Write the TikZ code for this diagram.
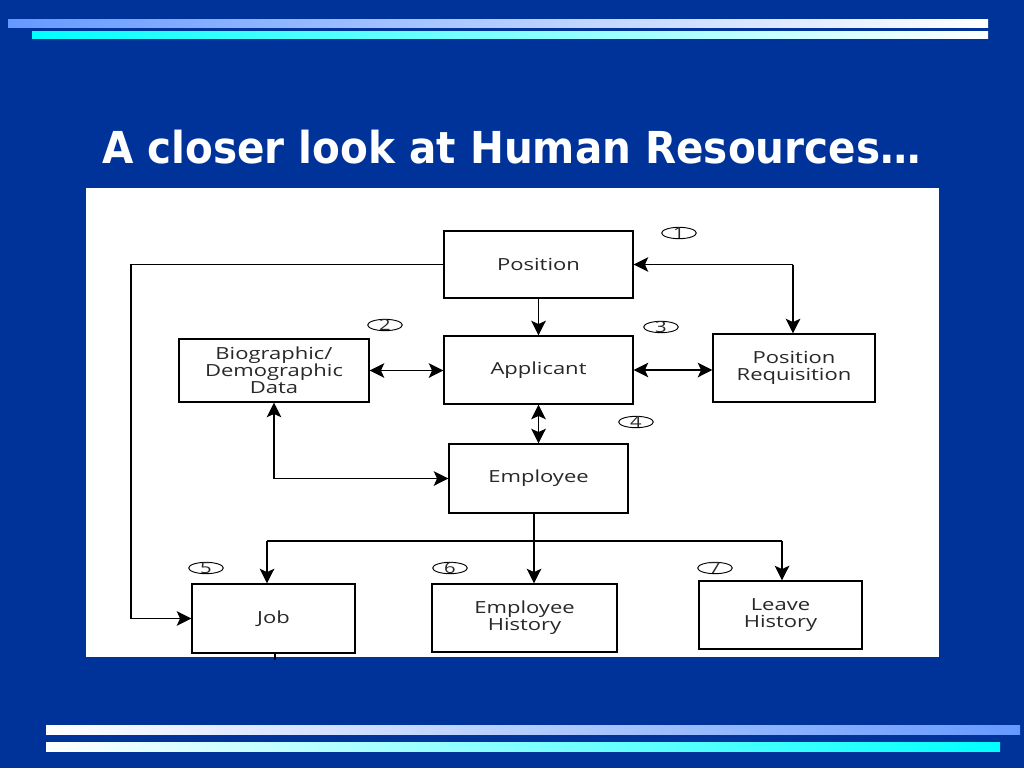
\documentclass[tikz,border=0pt]{standalone}
\usepackage{fontspec}
\usetikzlibrary{arrows.meta,shapes.geometric}
\newfontfamily\boxfont{Open Sans}[FakeStretch=1.32]
\newfontfamily\titlefont{DejaVu Sans}[FakeStretch=0.92]
\definecolor{slideblue}{RGB}{0,51,153}
\definecolor{barblue}{RGB}{102,153,255}
\definecolor{boxtext}{RGB}{40,40,40}
\begin{document}
\begin{tikzpicture}[x=0.75pt,y=-0.75pt,
    entity/.style={draw,line width=0.9pt,text=boxtext,align=center,
      font=\boxfont\fontsize{12.5}{12.75}\selectfont,inner sep=0pt},
    numtag/.style={draw,ellipse,line width=0.7pt,inner xsep=0pt,inner ysep=-2.5pt,
      minimum width=26pt,minimum height=8.5pt,text=boxtext,
      font=\boxfont\fontsize{11.5}{11.5}\selectfont},
    link/.style={line width=1pt},
    arr/.style={link,-{Stealth[length=11pt,width=11pt,inset=2.5pt]}},
    darr/.style={link,{Stealth[length=11pt,width=11pt,inset=2.5pt]}-{Stealth[length=11pt,width=11pt,inset=2.5pt]}}]
    \useasboundingbox (0,0) rectangle (1024,768);
    % Slide background
    \fill[slideblue] (0,0) rectangle (1024,768);

    % Bars at top and bottom
    \shade[left color=barblue,right color=white] (8,19) rectangle (988,27);
    \shade[left color=cyan,right color=white] (32,31) rectangle (988,38);
    \shade[left color=white,right color=barblue] (46,725) rectangle (1020,734);
    \shade[left color=white,right color=cyan] (46,742) rectangle (1000,751);

    % Title
    \node[anchor=base west,text=white,inner sep=0pt,
      font=\titlefont\bfseries\fontsize{33}{40}\selectfont] (title) at (102,163)
      {A closer look at Human Resources…};

    % White panel
    \fill[white] (86,188) rectangle (939,657);

    % Entities
    \node[entity,minimum width=141.75pt,minimum height=50.25pt] (pos) at (538.5,264.5) {Position};
    \node[entity,minimum width=141.75pt,minimum height=51pt] (app) at (538.5,370) {Applicant};
    \node[entity,minimum width=142.5pt,minimum height=47.25pt] (bio) at (274,370.5) {Biographic/\\Demographic\\Data};
    \node[entity,minimum width=121.5pt,minimum height=51pt] (req) at (794,368) {Position\\Requisition};
    \node[entity,minimum width=134.25pt,minimum height=51.75pt] (emp) at (538.5,478.5) {Employee};
    \node[entity,minimum width=122.25pt,minimum height=51.75pt] (job) at (273.5,618.5) {Job};
    \node[entity,minimum width=138.75pt,minimum height=51pt] (eh) at (524.5,618) {Employee\\History};
    \node[entity,minimum width=122.25pt,minimum height=51pt] (lh) at (780.5,615) {Leave\\History};

    % Numbered tags
    \node[numtag] (n1) at (679,233) {1};
    \node[numtag] (n2) at (385,325) {2};
    \node[numtag] (n3) at (661,327) {3};
    \node[numtag] (n4) at (636,422) {4};
    \node[numtag] (n5) at (206,568) {5};
    \node[numtag] (n6) at (450,568) {6};
    \node[numtag] (n7) at (715,568) {7};

    % Helper points
    \coordinate (corner) at (793,264.5);
    \coordinate (leftrail) at (131,0);
    \coordinate (busL) at (267,541);
    \coordinate (busR) at (782,541);
    \coordinate (hub) at (534,541);
    \coordinate (jobtail) at (275,660);

    % Connectors
    \draw[arr] (pos) -- (app);
    \draw[darr] (app) -- (emp);
    \draw[darr] (bio.east) -- (bio.east -| app.west);
    \draw[darr] (app.east) -- (app.east -| req.west);
    \draw[arr] (corner) -- (pos.east);
    \draw[arr] (corner) -- (corner |- req.north);
    \draw[darr] (bio.south) |- (emp.west);
    \draw[arr,line width=0.8pt] (pos.west) -- (pos.west -| leftrail) |- (job.west);
    \draw[link] (busL) -- (busR);
    \draw[arr] (busL) -- (busL |- job.north);
    \draw[arr] (busR) -- (busR |- lh.north);
    \draw[arr] (emp.south -| hub) -- (hub |- eh.north);
    \draw[link] (job.south -| jobtail) -- (jobtail);
\end{tikzpicture}
\end{document}
